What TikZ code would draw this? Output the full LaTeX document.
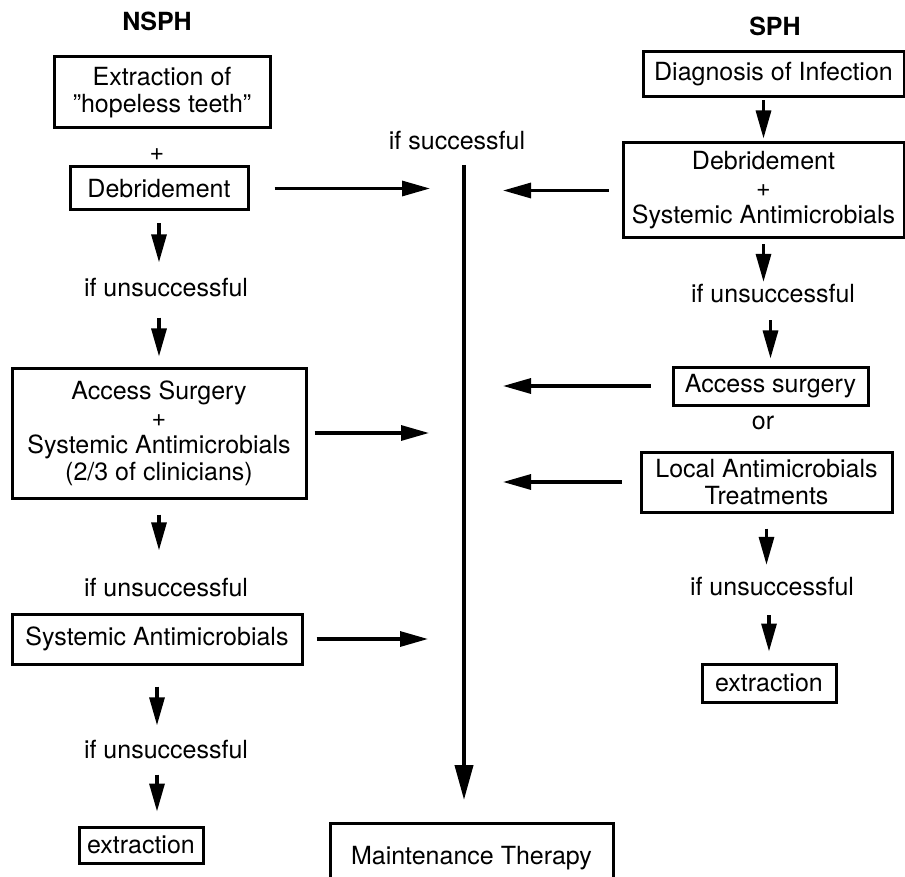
\documentclass[tikz,border=0pt]{standalone}
\usepackage{fontspec}
\setmainfont{TeX Gyre Heros}
\usetikzlibrary{arrows.meta}

\begin{document}
\begin{tikzpicture}[x=1pt, y=-1pt,
    every node/.style={font=\fontsize{25}{27}\selectfont},
    box/.style={draw, line width=3pt, align=center, inner sep=0pt},
    lbl/.style={inner sep=0pt, text height=18pt, text depth=5pt},
    head/.style={font=\fontsize{25}{27}\selectfont\bfseries},
    arr/.style={line width=3.2pt, -{Triangle[length=28pt,width=15pt]}}]
  \useasboundingbox (0,0) rectangle (905,877);
  % NSPH
  \node[lbl, head] (NSPH) at (157,24) {NSPH};
  \node[box, minimum width=216pt, minimum height=71pt] (LExt) at (162,92.5) {Extraction of\\\char34 hopeless teeth\char34};
  \node[lbl] (LPlus) at (157,154) {+};
  \node[box, minimum width=178pt, minimum height=43pt] (LDeb) at (159,188.5) {Debridement};
  \node[lbl] (LIf1) at (166,290) {if unsuccessful};
  \node[box, minimum width=294pt, minimum height=130pt] (LAcc) at (159,433) {Access Surgery\\+\\Systemic Antimicrobials\\(2/3 of clinicians)};
  \node[lbl] (LIf2) at (166,590) {if unsuccessful};
  \node[box, minimum width=290pt, minimum height=50pt] (LSys) at (157,639) {Systemic Antimicrobials};
  \node[lbl] (LIf3) at (166,752) {if unsuccessful};
  \node[box, minimum width=124pt, minimum height=36pt] (LExtr) at (141,845) {extraction};
  % SPH
  \node[lbl, head] (SPH) at (775,29) {SPH};
  \node[box, minimum width=261pt, minimum height=45pt] (RDiag) at (773.5,74.5) {Diagnosis of Infection};
  \node[box, minimum width=281pt, minimum height=95pt] (RDeb) at (763.5,190.5) {Debridement\\+\\Systemic Antimicrobials};
  \node[lbl] (RIf1) at (773,296.5) {if unsuccessful};
  \node[box, minimum width=195pt, minimum height=38pt] (RAcc) at (770.5,386) {Access surgery};
  \node[lbl] (ROr) at (763,423) {or};
  \node[box, minimum width=251pt, minimum height=60pt] (RLoc) at (766.5,482) {Local Antimicrobials\\Treatments};
  \node[lbl] (RIf2) at (772,588.5) {if unsuccessful};
  \node[box, minimum width=134pt, minimum height=38pt] (RExtr) at (769,683) {extraction};
  % middle
  \node[lbl] (IfSucc) at (457,143.5) {if successful};
  \node[box, minimum width=283pt, minimum height=70pt, anchor=north] (Maint) at (471.5,822) {Maintenance Therapy};
  \coordinate (Trunk) at (464,165);

  \draw[line width=4pt, -{Triangle[length=35pt,width=18pt]}, shorten >=22pt] (Trunk) -- (Trunk |- Maint.north);

  \draw[arr, shorten <=12pt, shorten >=16pt] (LDeb.south) -- (LDeb.south |- LIf1.north);
  \draw[arr, shorten <=16pt, shorten >=10pt] (LAcc.north |- LIf1.south) -- (LAcc.north);
  \draw[arr, shorten <=15pt, shorten >=28pt] (LAcc.south) -- (LAcc.south |- LIf2.north);
  \draw[arr, shorten <=21pt, shorten >=15pt] (LSys.south) -- (LSys.south |- LIf3.north);
  \draw[arr, shorten <=11pt, shorten >=14pt] (LSys |- LIf3.south) -- (LSys |- LExtr.north);

  \draw[arr, shorten <=25pt, shorten >=34pt] (LDeb.east) -- (LDeb.east -| Trunk);
  \draw[arr, shorten <=7pt, shorten >=35pt] (LAcc.east) -- (LAcc.east -| Trunk);
  \draw[arr, shorten <=13pt, shorten >=36pt] (LSys.east) -- (LSys.east -| Trunk);

  \draw[arr, shorten <=13pt, shorten >=39pt] (RDeb.west) -- (RDeb.west -| Trunk);
  \draw[arr, shorten <=21pt, shorten >=39pt] (RAcc.west) -- (RAcc.west -| Trunk);
  \draw[arr, shorten <=18pt, shorten >=39pt] (RLoc.west) -- (RLoc.west -| Trunk);

  \draw[arr, shorten <=2pt, shorten >=3pt] (RDeb.north |- RDiag.south) -- (RDeb.north);
  \draw[arr, shorten <=5pt, shorten >=3pt] (RDeb.south) -- (RDeb.south |- RIf1.north);
  \draw[arr, shorten <=12pt, shorten >=7pt] (RAcc.north |- RIf1.south) -- (RAcc.north);
  \draw[arr, shorten <=15pt, shorten >=12pt] (RLoc.south) -- (RLoc.south |- RIf2.north);
  \draw[arr, shorten <=15pt, shorten >=11pt] (RExtr.north |- RIf2.south) -- (RExtr.north);
\end{tikzpicture}
\end{document}
